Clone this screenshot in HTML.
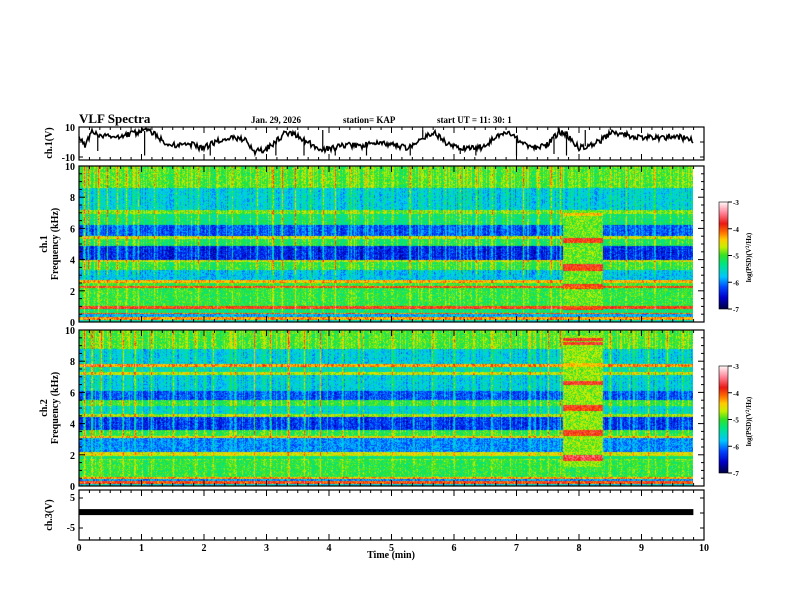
<!DOCTYPE html>
<html><head><meta charset="utf-8"><style>
body{margin:0;background:#fff;}
#wrap{position:relative;width:792px;height:612px;overflow:hidden;background:#fff;font-family:"Liberation Serif",serif;}
canvas{position:absolute;}
svg{position:absolute;left:0;top:0;}
</style></head><body>
<div id="wrap">
<canvas id="sp1" width="614" height="156" style="left:79px;top:166px"></canvas>
<canvas id="sp2" width="614" height="156" style="left:79px;top:330px"></canvas>
<canvas id="cb1" width="9" height="107" style="left:719px;top:202px"></canvas>
<canvas id="cb2" width="9" height="107" style="left:719px;top:366px"></canvas>
<svg id="ov" width="792" height="612"></svg>
</div>
<script>
// ---- data ----
const waveT=[0,0.1,0.21,0.34,0.5,0.66,0.82,0.98,1.13,1.22,1.33,1.46,1.62,1.78,1.94,2.1,2.26,2.42,2.58,2.7,2.8,2.98,3.14,3.3,3.46,3.66,3.86,4.08,4.29,4.53,4.61,4.83,5.05,5.26,5.5,5.7,5.85,6.09,6.31,6.48,6.65,6.86,7.08,7.26,7.47,7.68,7.81,8.0,8.32,8.53,8.74,9.02,9.3,9.52,9.82];
const waveV=[2.7,-2,6.7,4.7,4,3.3,5.3,6.7,8,4.7,1.3,-2,-2.7,-1.3,-4,-2,1.3,2.7,2.7,0,-6.7,-5.3,0,6,4.7,0,-5.3,-4,-2,-2.7,-1.3,0,-2,-4,2.7,6,0,-4,-4,-3.3,2.7,6.7,0,-4,-2.7,6.7,4.7,-4,0,6.7,4.7,2.7,2.7,4,1.3];
const waveSpikeT=[0.3,1.05,2.1,3.15,3.6,3.9,4.1,4.6,5.3,5.5,6.1,6.35,7.0,7.6,7.8,8.1];
const waveSpikeV=[-6,-9,-9,-9,-9,8,-9,-9,-9,8,-8,-9,-9,-8,-9,8];
const ch3Level=0.3;
const ch1Lo=[8.6,7.2,6.95,6.2,5.5,5.3,4.85,4.0,3.85,3.35,2.7,2.5,2.3,2.2,1.0,0.85,0.6,0.5,0.3,0.15,0];
const ch1Hi=[10,8.6,7.2,6.95,6.2,5.5,5.3,4.85,4.0,3.85,3.35,2.7,2.5,2.3,2.2,1.0,0.85,0.6,0.5,0.3,0.15];
const ch1Lev=[-5.0,-5.7,-4.9,-5.3,-6.2,-4.7,-5.2,-6.4,-4.7,-5.1,-5.8,-4.4,-5.1,-4.0,-5.1,-3.9,-5.3,-4.1,-5.9,-4.3,-5.6];
const ch2Lo=[8.8,7.8,7.6,7.3,7.1,6.1,5.5,5.1,4.6,4.45,3.6,3.2,3.05,2.2,1.95,1.75,1.65,0.6,0.45,0.3,0.15,0];
const ch2Hi=[10,8.8,7.8,7.6,7.3,7.1,6.1,5.5,5.1,4.6,4.45,3.6,3.2,3.05,2.2,1.95,1.75,1.65,0.6,0.45,0.3,0.15];
const ch2Lev=[-5.0,-5.7,-4.3,-5.5,-4.7,-5.7,-6.2,-5.1,-5.6,-4.8,-6.3,-5.1,-4.5,-6.0,-4.6,-5.3,-4.9,-5.1,-4.3,-6.0,-4.0,-5.7];
const burstStart=7.75, burstEnd=8.38;
const burst1Range=[0.8,7.2], burst1Base=-4.9;
const burst1Freq=[6.9,5.3,5.15,3.6,3.4,2.35,2.2,0.9];
const burst1Lev=[-4.4,-3.8,-3.9,-3.8,-3.9,-3.8,-4.0,-3.9];
const burst2Range=[1.2,9.7], burst2Base=-4.8;
const burst2Freq=[9.4,9.15,7.75,6.6,5.1,4.9,3.5,3.3,1.85,1.7];
const burst2Lev=[-3.8,-3.8,-4.4,-3.8,-3.8,-3.9,-3.8,-3.9,-3.6,-3.7];
const spikeT1=[0.08,0.15,0.3,0.45,0.6,0.75,0.95,1.2,1.55,1.9,2.2,2.45,2.85,3.1,3.25,3.45,3.7,3.9,4.1,4.35,4.6,5.0,5.3,5.6,5.85,6.1,6.35,6.6,6.85,7.1,7.35,7.55,7.7,8.5,8.75,9.0,9.2,9.45,9.65];
const spikeS1=[1.2,1.0,0.9,0.8,0.9,0.7,0.8,0.7,0.6,0.8,0.7,0.6,0.8,0.7,0.9,1.0,0.8,0.7,0.6,0.6,0.5,0.5,0.6,0.5,0.5,0.6,0.5,0.6,0.5,0.6,0.7,0.9,0.8,0.6,0.7,0.5,0.6,0.5,0.5];
const spikeT2=[0.08,0.2,0.35,0.5,0.7,0.9,1.15,1.5,1.85,2.15,2.5,2.8,3.05,3.35,3.6,3.85,4.2,4.55,5.0,5.35,5.65,6.0,6.3,6.6,6.9,7.2,7.5,7.7,8.5,8.8,9.1,9.4,9.65];
const spikeS2=[1.1,0.9,0.9,0.8,0.8,0.7,0.7,0.6,0.7,0.6,0.6,0.7,0.8,1.1,0.8,0.7,0.6,0.6,0.5,0.5,0.6,0.5,0.6,0.5,0.5,0.6,0.8,0.8,0.6,0.6,0.5,0.6,0.5];
const freqTicks=[0,2,4,6,8,10];
const timeTicks=[0,1,2,3,4,5,6,7,8,9,10];
const cbTicks=[-3,-4,-5,-6,-7];

// ---- scales ----
const X0=79,X1=704;
const xS=t=>X0+(X1-X0)*t/10;
function hash(a,b){let h=(a*374761393+b*668265263)|0;h=(h^(h>>>13))*1274126177|0;h=h^(h>>>16);return ((h>>>0)%10000)/10000;}
const stops=[[0,0,0,70],[0.1,0,0,200],[0.2,0,70,255],[0.3,0,200,255],[0.42,0,230,130],[0.5,50,225,40],[0.58,200,240,0],[0.65,255,205,0],[0.72,255,110,0],[0.8,235,25,20],[0.9,255,130,150],[1,255,245,245]];
function cmap(v){let t=(v+7)/4;t=Math.max(0,Math.min(1,t));for(let i=1;i<stops.length;i++){if(t<=stops[i][0]){const a=stops[i-1],b=stops[i],u=(t-a[0])/(b[0]-a[0]);return [a[1]+(b[1]-a[1])*u,a[2]+(b[2]-a[2])*u,a[3]+(b[3]-a[3])*u];}}return [255,245,245];}

function drawSpec(id,lo,hi,lev,bRange,bBase,bF,bL,sT,sS,seed){
  const c=document.getElementById(id),ctx=c.getContext('2d'),W=c.width,H=c.height;
  const img=ctx.createImageData(W,H);
  const colBoost=new Float32Array(W);
  for(let i=0;i<sT.length;i++){const px=Math.round(xS(sT[i])-X0);for(let d=-1;d<=1;d++){const p=px+d;if(p>=0&&p<W)colBoost[p]+=sS[i]*(d==0?1.2:0.3);}}
  for(let x=0;x<W;x++){
    const t=(x+0.5)/(X1-X0)*10;
    const cn=(hash(x,seed)-0.5)*0.8 + (hash(x,seed+7)>0.88?0.7:0);
    for(let y=0;y<H;y++){
      const f=10*(1-(y+0.5)/H);
      let v=-5;
      for(let k=0;k<lo.length;k++){if(f>=lo[k]&&f<hi[k]){v=lev[k];break;}}
      const inB=t>=burstStart&&t<=burstEnd&&f>=bRange[0]&&f<=bRange[1];
      if(inB){v=bBase;for(let k=0;k<bF.length;k++){if(Math.abs(f-bF[k])<0.11)v=bL[k];}}
      const hw=f>3?1:0.5;
      v+= (hash(x*3+seed,y)-0.5)*0.6 + (inB?0:cn*0.5*hw + colBoost[x]*hw*(0.6+0.6*hash(y,x)));
      const col=cmap(v),o=(y*W+x)*4;
      img.data[o]=col[0];img.data[o+1]=col[1];img.data[o+2]=col[2];img.data[o+3]=255;
    }
  }
  ctx.putImageData(img,0,0);
}
drawSpec('sp1',ch1Lo,ch1Hi,ch1Lev,burst1Range,burst1Base,burst1Freq,burst1Lev,spikeT1,spikeS1,11);
drawSpec('sp2',ch2Lo,ch2Hi,ch2Lev,burst2Range,burst2Base,burst2Freq,burst2Lev,spikeT2,spikeS2,29);
['cb1','cb2'].forEach(id=>{const c=document.getElementById(id),ctx=c.getContext('2d');for(let y=0;y<c.height;y++){const v=-3-4*y/(c.height-1);const col=cmap(v);ctx.fillStyle=`rgb(${col[0]|0},${col[1]|0},${col[2]|0})`;ctx.fillRect(0,y,c.width,1);}});

// ---- SVG overlay ----
const NS='http://www.w3.org/2000/svg',svg=document.getElementById('ov');
function el(tag,attrs,parent){const e=document.createElementNS(NS,tag);for(const k in attrs)e.setAttribute(k,attrs[k]);(parent||svg).appendChild(e);return e;}
function txt(s,x,y,size,anchor,name,rot){const e=el('text',{x:x,y:y,'font-size':size,'text-anchor':anchor||'start','font-family':'Liberation Serif, serif','font-weight':'bold',fill:'#000'});if(rot)e.setAttribute('transform',`rotate(-90 ${x} ${y})`);e.textContent=s;return e;}

function panel(top,bot,name){
  const g=el('g',{});
  el('rect',{x:X0,y:top,width:X1-X0,height:bot-top,fill:'none',stroke:'#000','stroke-width':1.2},g);
  for(let i=0;i<=60;i++){const x=X0+(X1-X0)*i/60,len=i%6==0?6:3;el('line',{x1:x,y1:top,x2:x,y2:top+len,stroke:'#000'},g);el('line',{x1:x,y1:bot,x2:x,y2:bot-len,stroke:'#000'},g);}
  return g;
}
// ch1 waveform panel
const p1=panel(127,160,'ch1-waveform-panel');
const wy=v=>142-v*1.5;
function interp(t){for(let i=1;i<waveT.length;i++){if(t<=waveT[i]){const u=(t-waveT[i-1])/(waveT[i]-waveT[i-1]);return waveV[i-1]+(waveV[i]-waveV[i-1])*u;}}return waveV[waveV.length-1];}
let d='';
for(let px=0;px<=Math.round(xS(9.82)-X0);px++){const t=px/(X1-X0)*10;const j=(hash(px,5)-0.5)*4;d+=(px?'L':'M')+(X0+px)+','+wy(interp(t)+j).toFixed(1);}
const wl=el('path',{d:d,fill:'none',stroke:'#000','stroke-width':1.6},p1);

for(let i=0;i<waveSpikeT.length;i++){const x=xS(waveSpikeT[i]);const s=el('line',{x1:x,y1:wy(interp(waveSpikeT[i])),x2:x,y2:wy(waveSpikeV[i]),stroke:'#000','stroke-width':1.2},p1);}
for(const v of [-10,0,10]){const y=Math.min(159,Math.max(127,wy(v)));el('line',{x1:X0,y1:y,x2:X0+4,y2:y,stroke:'#000'},p1);el('line',{x1:X1,y1:y,x2:X1-4,y2:y,stroke:'#000'},p1);}
txt('10',75,131,10,'end','ch1-ytick-10');txt('-10',75,161,10,'end','ch1-ytick-neg10');
txt('ch.1(V)',52,143,10,'middle','ch1-y-title',true);

// spectrogram panels
function specAxes(top,bot,name,label){
  const g=panel(top,bot,name);
  const fy=f=>bot-(bot-top)*f/10;
  for(let i=0;i<=20;i++){const y=top+(bot-top)*i/20,len=i%4==0?6:3;el('line',{x1:X0,y1:y,x2:X0+len,y2:y,stroke:'#000'},g);el('line',{x1:X1,y1:y,x2:X1-len,y2:y,stroke:'#000'},g);}
  freqTicks.forEach(f=>txt(String(f),75,fy(f)+4,10,'end',label+'-ytick-'+f));
  txt(label,47,(top+bot)/2,10,'middle',label+'-y-title',true);
  txt('Frequency (kHz)',58,(top+bot)/2,10,'middle',label+'-freq-title',true);
}
specAxes(166,322,'ch1-spectrogram-axes','ch.1');
specAxes(330,486,'ch2-spectrogram-axes','ch.2');

// colorbars
function cbAxes(top,name){
  const bot=top+107;
  el('rect',{x:719,y:top,width:9,height:107,fill:'none',stroke:'#000','stroke-width':0.6});
  cbTicks.forEach(v=>{const y=top+(-3-v)/4*107;el('line',{x1:728,y1:y,x2:732,y2:y,stroke:'#000'});txt(String(v),733,y+3,7,'start',name+'-tick-'+v);});
  const e=el('text',{x:751,y:(top+bot)/2+2,'font-size':7,'text-anchor':'middle','font-family':'Liberation Serif, serif','font-weight':'bold',transform:`rotate(-90 751 ${(top+bot)/2+2})`});
  e.innerHTML='log(PSD)(V<tspan font-size="5" dy="-2">2</tspan><tspan dy="2">/Hz)</tspan>';
  
}
cbAxes(202,'ch1-colorbar');cbAxes(366,'ch2-colorbar');

// ch3 panel
const p3=panel(490,540,'ch3-waveform-panel');
const c3y=v=>513-v*3;
const bar=el('rect',{x:X0,y:c3y(ch3Level)-3,width:xS(9.83)-X0,height:6,fill:'#000'},p3);

for(const v of [-5,0,5]){const y=c3y(v);el('line',{x1:X0,y1:y,x2:X0+4,y2:y,stroke:'#000'},p3);el('line',{x1:X1,y1:y,x2:X1-4,y2:y,stroke:'#000'},p3);}
txt('5',75,501,10,'end','ch3-ytick-5');txt('-5',75,531,10,'end','ch3-ytick-neg5');
txt('ch.3(V)',52,515,10,'middle','ch3-y-title',true);
timeTicks.forEach(t=>txt(String(t),xS(t),551,10,'middle','x-tick-'+t));
txt('Time (min)',391,558,10,'middle','x-axis-title');

// header
txt('VLF Spectra',79,123,13,'start','chart-title');
txt('Jan. 29, 2026',251,123,9,'start','date-label');
txt('station= KAP',343,123,9,'start','station-label');
txt('start  UT =   11: 30: 1',437,123,9,'start','start-time-label');
</script>
</body></html>
